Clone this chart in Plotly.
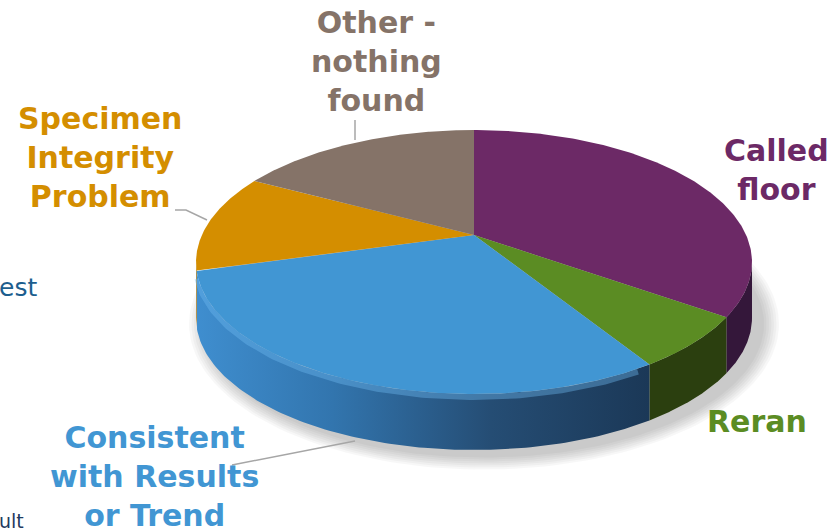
import numpy as np
import plotly.graph_objects as go

# Reasons recorded, in clockwise order starting at 12 o'clock
labels = ["Called floor", "Reran", "Consistent with Results or Trend",
          "Specimen Integrity Problem", "Other - nothing found"]
counts = [22, 5, 24, 8, 10]

top_colors = ["#6C2966", "#5B8C23", "#4196D3", "#D48E00", "#857368"]
side_colors = ["#34173A", "#2B3F0F", None, "#9A6800", "#5E5049"]

# Tilted-disc geometry (pixel space of the page)
W, H = 839, 532
cx, cy = 474, 262      # centre of the rim ellipse
a, b = 278, 132        # rim semi-axes
apex = (474, 235)      # projected centre of the disc
depth = 56             # thickness of the disc


def rim(theta_deg, dy=0.0, grow_x=0.0, grow_y=0.0):
    t = np.radians(theta_deg)
    return cx + (a + grow_x) * np.sin(t), cy - (b + grow_y) * np.cos(t) + dy


fig = go.Figure()

# soft shadow under the disc, cast towards the lower right
for k in range(7):
    g = 2 + k * 2.5
    th = np.linspace(0, 360, 181)
    sx, sy = rim(th, dy=depth + 6, grow_x=g, grow_y=g * 0.8)
    fig.add_trace(go.Scatter(x=sx + 10, y=sy, fill="toself", mode="lines",
                             line=dict(width=0), fillcolor="rgba(0,0,0,0.03)",
                             hoverinfo="skip"))

total = sum(counts)
bounds = np.concatenate([[0], np.cumsum(counts) / total * 360])

# side walls for the front half of the disc
for i in range(len(counts)):
    t1, t2 = max(bounds[i], 90), min(bounds[i + 1], 270)
    if t2 <= t1:
        continue
    th = np.linspace(t1, t2, 120)
    tx, ty = rim(th)
    bx, by = rim(th[::-1], dy=depth)
    xs = np.concatenate([tx, bx, tx[:1]])
    ys = np.concatenate([ty, by, ty[:1]])
    if side_colors[i] is None:
        fig.add_trace(go.Scatter(
            x=xs, y=ys, fill="toself", mode="lines", line=dict(width=0),
            fillgradient=dict(type="horizontal", colorscale=[
                [0, "#3F8ECF"], [0.3, "#3275AE"], [0.65, "#254D74"], [1, "#1B3857"]]),
            hoverinfo="skip"))
    else:
        fig.add_trace(go.Scatter(x=xs, y=ys, fill="toself", mode="lines",
                                 line=dict(width=0), fillcolor=side_colors[i],
                                 hoverinfo="skip"))

# soft bevel highlight along the top of the blue side wall
th = np.linspace(max(bounds[2], 90) + 3, min(bounds[3], 270) - 2, 150)
hx, hy = rim(th, dy=3)
fig.add_trace(go.Scatter(x=hx, y=hy, mode="lines",
                         line=dict(color="rgba(110,185,240,0.4)", width=6),
                         hoverinfo="skip"))

# top face slices
for i in range(len(counts)):
    th = np.linspace(bounds[i], bounds[i + 1], 200)
    rx, ry = rim(th)
    xs = np.concatenate([[apex[0]], rx, [apex[0]]])
    ys = np.concatenate([[apex[1]], ry, [apex[1]]])
    fig.add_trace(go.Scatter(x=xs, y=ys, fill="toself", mode="lines",
                             line=dict(width=0), fillcolor=top_colors[i],
                             hoverinfo="skip"))

# leader lines
leaders = [
    ([355, 355], [120, 140]),
    ([175, 186, 207], [210, 210, 220]),
    ([232, 355], [465, 441]),
]
for lx, ly in leaders:
    fig.add_trace(go.Scatter(x=lx, y=ly, mode="lines",
                             line=dict(color="#A6A6A6", width=1.5),
                             hoverinfo="skip"))

font = "DejaVu Sans, Verdana, sans-serif"
label_text = {
    0: "Called<br>floor",
    1: "Reran",
    2: "Consistent<br>with Results<br>or Trend",
    3: "Specimen<br>Integrity<br>Problem",
    4: "Other -<br>nothing<br>found",
}
label_pos = {0: (776, 170), 1: (757, 421), 2: (154, 476), 3: (100, 157), 4: (376, 61)}

annotations = []
for i, txt in label_text.items():
    x, y = label_pos[i]
    annotations.append(dict(x=x, y=y, xref="x", yref="y", text="<b>" + txt + "</b>",
                            showarrow=False, xanchor="center", yanchor="middle",
                            align="center",
                            font=dict(family=font, size=30, color=top_colors[i])))

# fragments of neighbouring slide text at the left edge
annotations.append(dict(x=0, y=287, xref="x", yref="y", text="est", showarrow=False,
                        xanchor="left", yanchor="middle", xshift=-3,
                        font=dict(family=font, size=25, color="#1C5E8E")))
annotations.append(dict(x=0, y=521, xref="x", yref="y", text="ult", showarrow=False,
                        xanchor="left", yanchor="middle", xshift=-3,
                        font=dict(family=font, size=19, color="#1F3A60")))

fig.update_layout(
    width=W, height=H,
    margin=dict(l=0, r=0, t=0, b=0),
    paper_bgcolor="white", plot_bgcolor="white",
    showlegend=False,
    xaxis=dict(range=[0, W], visible=False, fixedrange=True),
    yaxis=dict(range=[H, 0], visible=False, fixedrange=True),
    annotations=annotations,
)

fig.write_html("out.html")
